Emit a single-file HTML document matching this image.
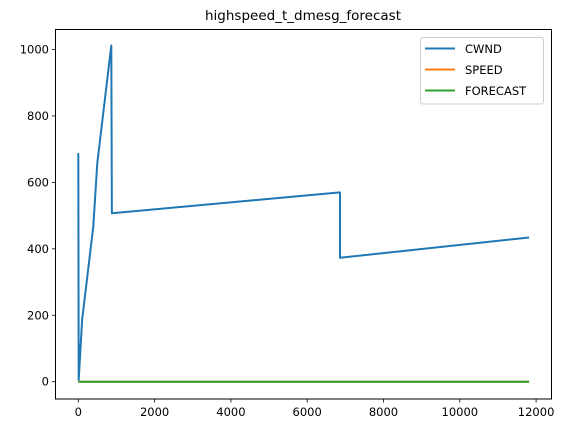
<!DOCTYPE html>
<html><head><meta charset="utf-8"><style>
body{margin:0;background:#fff;}
svg{font-family:"DejaVu Sans","Liberation Sans",sans-serif;}
</style></head><body>
<svg id="chart" width="568" height="433" xmlns="http://www.w3.org/2000/svg">
<text x="303" y="20" font-size="13.5" text-anchor="middle">highspeed_t_dmesg_forecast</text>
<g id="plot"></g>
<rect x="55.5" y="29.5" width="496" height="369.5" fill="none" stroke="#000" stroke-width="1"/>
<g>
<rect x="420.5" y="37.5" width="123" height="66.5" rx="2.5" fill="#fff" fill-opacity="0.8" stroke="#ccc"/>
<line x1="425" y1="48.5" x2="455" y2="48.5" stroke="#1f77b4" stroke-width="2"/>
<text x="465" y="53" font-size="11.5">CWND</text>
<line x1="425" y1="69.5" x2="455" y2="69.5" stroke="#ff7f0e" stroke-width="2"/>
<text x="465" y="74" font-size="11.5">SPEED</text>
<line x1="425" y1="90.5" x2="455" y2="90.5" stroke="#2ca02c" stroke-width="2"/>
<text x="465" y="95" font-size="11.5">FORECAST</text>
</g>
</svg>
<script>
const xTicks=[0,2000,4000,6000,8000,10000,12000];
const yTicks=[0,200,400,600,800,1000];
const cwndX=[0,10,100,393,498,865,880,6860,6860,11815];
const cwndY=[688,5,186,467,658,1012,507,570,373,434];
const speedX=[0,11815];
const speedY=[0,0];
const forecastX=[0,11815];
const forecastY=[0,0];
const NS="http://www.w3.org/2000/svg";
const sx=v=>78.3+v*0.03815;
const sy=v=>381.7-v*0.3322;
const g=document.getElementById('plot');
function mk(t,a){const e=document.createElementNS(NS,t);for(const k in a)e.setAttribute(k,a[k]);g.appendChild(e);return e;}
xTicks.forEach(v=>{
 const l=mk('line',{x1:sx(v),x2:sx(v),y1:399,y2:402.5,stroke:'#000','stroke-width':0.8});
 
 
 const t=mk('text',{x:sx(v),y:416,'font-size':11.5,'text-anchor':'middle'});t.textContent=v;
 
 
});
yTicks.forEach(v=>{
 const l=mk('line',{x1:52,x2:55.5,y1:sy(v),y2:sy(v),stroke:'#000','stroke-width':0.8});
 
 
 const t=mk('text',{x:49,y:sy(v)+4,'font-size':11.5,'text-anchor':'end'});t.textContent=v;
 
 
});
function line(xs,ys,c){return mk('polyline',{points:xs.map((x,i)=>sx(x)+','+sy(ys[i])).join(' '),fill:'none',stroke:c,'stroke-width':2,'stroke-linejoin':'round'});}
const a=line(cwndX,cwndY,'#1f77b4');


const b=line(speedX,speedY,'#ff7f0e');


const c=line(forecastX,forecastY,'#2ca02c');


</script>
</body></html>
